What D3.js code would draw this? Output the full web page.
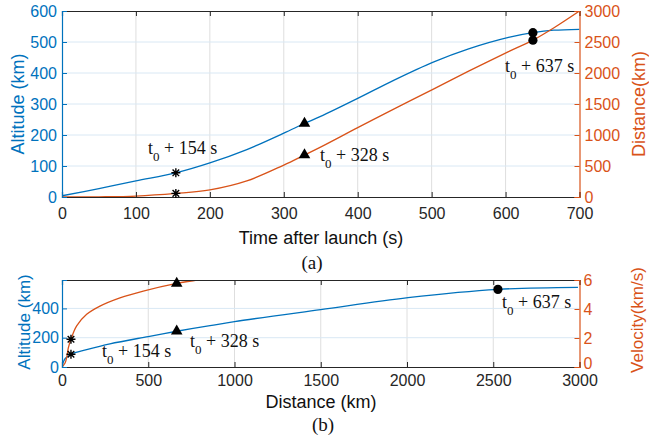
<!DOCTYPE html>
<html><head><meta charset="utf-8">
<script src="https://cdn.jsdelivr.net/npm/d3@7/dist/d3.min.js"></script>
<style>
html,body{margin:0;padding:0;background:#fff;}
svg{display:block;}
</style>
</head><body>
<svg id="c" width="649" height="443"></svg>
<script>
// ---------- data (a) ----------
const timeA = [0, 50, 100, 154, 200, 250, 300, 328, 349, 400, 450, 503, 550, 604, 637, 665, 700];
const altA  = [4, 27, 52, 78, 110, 153, 206, 237, 259, 318, 378, 436, 478, 515, 530, 538, 541];
const distA = [0, 3, 15, 58, 115, 260, 515, 677, 800, 1118, 1425, 1745, 2030, 2345, 2530, 2726, 3000];
const eventT = [154, 328, 637];
const eventAltA = [78, 237, 530];
const eventDistA = [58, 677, 2530];
const xTicksA = [0, 100, 200, 300, 400, 500, 600, 700];
const yLTicksA = [0, 100, 200, 300, 400, 500, 600];
const yRTicksA = [0, 500, 1000, 1500, 2000, 2500, 3000];

// ---------- data (b) ----------
const distB = [0, 8, 20, 52, 143, 278, 500, 665, 858, 1000, 1500, 2006, 2527, 2991];
const altB  = [0, 35, 60, 87, 118, 158, 208, 244, 282, 310, 392, 473, 530, 544];
const distV = [0, 17, 27, 37, 52, 85, 143, 220, 336, 471, 665, 781, 850];
const velV  = [0, 0.26, 0.64, 1.33, 1.91, 2.83, 3.63, 4.2, 4.77, 5.24, 5.77, 6.0, 6.2];
const eventDistB = [52, 665, 2527];
const eventAltB = [87, 244, 530];
const eventVelB = [1.91, 5.77];
const xTicksB = [0, 500, 1000, 1500, 2000, 2500, 3000];
const yLTicksB = [0, 200, 400];
const yRTicksB = [0, 2, 4, 6];

const labels = ["154", "328", "637"];

const BLUE = "#0072BD", ORANGE = "#D95319", DARK = "#262626";
const GRIDV = "#dedede", GRIDH = "#d9e8f4";
const SANS = "'Liberation Sans', Arial, Helvetica, sans-serif";
const SERIF = "'Liberation Serif', 'Times New Roman', serif";

const svg = d3.select("#c");
const X0 = 62, X1 = 579.5;

function star(g, x, y) {
  const r = 4.5, d = 3.3;
  const p = `M${x-r},${y}L${x+r},${y}M${x},${y-r}L${x},${y+r}M${x-d},${y-d}L${x+d},${y+d}M${x-d},${y+d}L${x+d},${y-d}`;
  g.append("path").attr("d", p).attr("stroke", "#000").attr("stroke-width", 1.4).attr("fill", "none");
}
function tri(g, x, y) {
  g.append("path").attr("d", d3.symbol(d3.symbolTriangle, 58)())
    .attr("transform", `translate(${x},${y})`).attr("fill", "#000");
}
function dot(g, x, y) {
  g.append("circle").attr("cx", x).attr("cy", y).attr("r", 4.6).attr("fill", "#000");
}
function annot(g, x, y, num) {
  const t = g.append("text").attr("x", x).attr("y", y).attr("font-family", SERIF)
    .attr("font-size", 18).attr("fill", "#111");
  t.append("tspan").text("t");
  t.append("tspan").attr("font-size", 13).attr("dy", 7).text("0");
  t.append("tspan").attr("dy", -7).text(" + " + num + " s");
}

function panel(cfg) {
  const g = svg.append("g");
  const x = d3.scaleLinear().domain(cfg.xd).range([X0, X1]);
  const yl = d3.scaleLinear().domain(cfg.yld).range([cfg.yb, cfg.yt]);
  const yr = d3.scaleLinear().domain(cfg.yrd).range([cfg.yb, cfg.yt]);
  // grid
  g.append("g").selectAll("line").data(cfg.xt.slice(1, -1)).join("line")
    .attr("x1", d => x(d)).attr("x2", d => x(d)).attr("y1", cfg.yt).attr("y2", cfg.yb)
    .attr("stroke", GRIDV).attr("stroke-width", 1);
  g.append("g").selectAll("line").data(cfg.ylt.filter(d => yl(d) > cfg.yt + 1 && yl(d) < cfg.yb - 1)).join("line")
    .attr("x1", X0).attr("x2", X1).attr("y1", d => yl(d)).attr("y2", d => yl(d))
    .attr("stroke", GRIDH).attr("stroke-width", 1);
  // clip
  const cid = "clip" + cfg.id;
  svg.append("clipPath").attr("id", cid).append("rect")
    .attr("x", X0).attr("y", cfg.yt).attr("width", X1 - X0).attr("height", cfg.yb - cfg.yt);
  const plot = g.append("g").attr("clip-path", `url(#${cid})`);
  // lines
  cfg.series.forEach(s => {
    const ys = s.axis === "L" ? yl : yr;
    const line = d3.line().x((d, i) => x(s.xs[i])).y((d, i) => ys(s.ys[i])).curve(d3.curveCatmullRom.alpha(0.5));
    plot.append("path").datum(s.xs).attr("d", line).attr("fill", "none")
      .attr("stroke", s.color).attr("stroke-width", 1.3);
  });
  // axes
  const ax = g.append("g").attr("transform", `translate(0,${cfg.yb})`)
    .call(d3.axisBottom(x).tickValues(cfg.xt).tickSize(-5).tickPadding(cfg.xpad).tickFormat(d3.format("d")));
  ax.select(".domain").attr("stroke", DARK);
  ax.selectAll(".tick line").attr("stroke", DARK);
  ax.selectAll("text").attr("fill", DARK).attr("font-family", SANS).attr("font-size", 16);
  const axT = g.append("g").attr("transform", `translate(0,${cfg.yt})`)
    .call(d3.axisTop(x).tickValues(cfg.xt).tickSize(-5).tickFormat(""));
  axT.select(".domain").attr("stroke", DARK);
  axT.selectAll(".tick line").attr("stroke", DARK);

  const al = g.append("g").attr("transform", `translate(${X0},0)`)
    .call(d3.axisLeft(yl).tickValues(cfg.ylt).tickSize(-5).tickPadding(cfg.lpad).tickFormat(d3.format("d")));
  al.selectAll(".domain,.tick line").attr("stroke", BLUE);
  al.selectAll("text").attr("fill", BLUE).attr("font-family", SANS).attr("font-size", 16);
  const ar = g.append("g").attr("transform", `translate(${X1},0)`)
    .call(d3.axisRight(yr).tickValues(cfg.yrt).tickSize(-5).tickPadding(cfg.rpad).tickFormat(d3.format("d")));
  ar.selectAll(".domain,.tick line").attr("stroke", ORANGE);
  ar.selectAll("text").attr("fill", ORANGE).attr("font-family", SANS).attr("font-size", 16);
  g.selectAll(".domain").attr("stroke-width", 1.2);
  return {g, x, yl, yr, ar};
}

// ---------- panel (a) ----------
const A = panel({
  id: "a", xd: [0, 700], yld: [0, 600], yrd: [0, 3000], yt: 11, yb: 197,
  xt: xTicksA, ylt: yLTicksA, yrt: yRTicksA, xpad: 10.5, lpad: 5, rpad: 5,
  series: [
    {xs: timeA, ys: altA, axis: "L", color: BLUE},
    {xs: timeA, ys: distA, axis: "R", color: ORANGE}
  ]
});
star(A.g, A.x(eventT[0]), A.yl(eventAltA[0]));
star(A.g, A.x(eventT[0]), A.yr(eventDistA[0]));
tri(A.g, A.x(eventT[1]), A.yl(eventAltA[1]));
tri(A.g, A.x(eventT[1]), A.yr(eventDistA[1]));
dot(A.g, A.x(eventT[2]), A.yl(eventAltA[2]));
dot(A.g, A.x(eventT[2]), A.yr(eventDistA[2]));
annot(svg, 148, 154, labels[0]);
annot(svg, 320, 161, labels[1]);
annot(svg, 505, 72, labels[2]);

svg.append("text").attr("transform", "translate(24,104) rotate(-90)").attr("text-anchor", "middle")
  .attr("font-family", SANS).attr("font-size", 18).attr("fill", BLUE).text("Altitude (km)");
svg.append("text").attr("transform", "translate(645,104) rotate(-90)").attr("text-anchor", "middle")
  .attr("font-family", SANS).attr("font-size", 18).attr("fill", ORANGE).text("Distance(km)");
svg.append("text").attr("x", 321).attr("y", 244).attr("text-anchor", "middle")
  .attr("font-family", SANS).attr("font-size", 18).attr("fill", "#111").text("Time after launch (s)");
svg.append("text").attr("x", 312).attr("y", 269).attr("text-anchor", "middle")
  .attr("font-family", SERIF).attr("font-size", 19).attr("fill", "#111").text("(a)");

// ---------- panel (b) ----------
const B = panel({
  id: "b", xd: [0, 3000], yld: [0, 594], yrd: [0, 6], yt: 280, yb: 367,
  xt: xTicksB, ylt: yLTicksB, yrt: yRTicksB, xpad: 7.5, lpad: 3, rpad: 4,
  series: [
    {xs: distB, ys: altB, axis: "L", color: BLUE},
    {xs: distV, ys: velV, axis: "R", color: ORANGE}
  ]
});
// nudge the right-axis "0" up slightly so it does not collide with the "3000" x label
B.ar.selectAll(".tick text").filter(d => d === 0).attr("dy", "0.1em");
star(B.g, B.x(eventDistB[0]), B.yl(eventAltB[0]));
star(B.g, B.x(eventDistB[0]), B.yr(eventVelB[0]));
tri(B.g, B.x(eventDistB[1]), B.yl(eventAltB[1]));
tri(B.g, B.x(eventDistB[1]), B.yr(eventVelB[1]));
dot(B.g, B.x(eventDistB[2]), B.yl(eventAltB[2]));
annot(svg, 102, 357, labels[0]);
annot(svg, 190, 347, labels[1]);
annot(svg, 502, 308, labels[2]);

svg.append("text").attr("transform", "translate(30,322) rotate(-90)").attr("text-anchor", "middle")
  .attr("font-family", SANS).attr("font-size", 17).attr("fill", BLUE).text("Altitude (km)");
svg.append("text").attr("transform", "translate(643,320) rotate(-90)").attr("text-anchor", "middle")
  .attr("font-family", SANS).attr("font-size", 17).attr("fill", ORANGE).text("Velocity(km/s)");
svg.append("text").attr("x", 321).attr("y", 408).attr("text-anchor", "middle")
  .attr("font-family", SANS).attr("font-size", 18).attr("fill", "#111").text("Distance (km)");
svg.append("text").attr("x", 323).attr("y", 431).attr("text-anchor", "middle")
  .attr("font-family", SERIF).attr("font-size", 19).attr("fill", "#111").text("(b)");
</script>
</body></html>
